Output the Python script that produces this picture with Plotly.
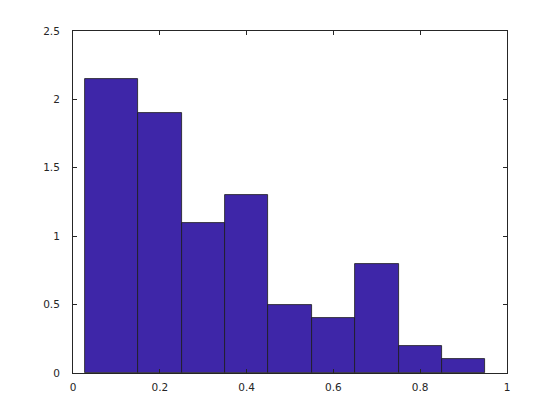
import plotly.graph_objects as go

bin_edges = [0.028, 0.15, 0.25, 0.35, 0.45, 0.55, 0.65, 0.75, 0.85, 0.95]
heights = [2.15, 1.9, 1.1, 1.3, 0.5, 0.4, 0.8, 0.2, 0.1]
x_ticks = [0, 0.2, 0.4, 0.6, 0.8, 1]
x_tick_labels = ["0", "0.2", "0.4", "0.6", "0.8", "1"]
y_ticks = [0, 0.5, 1, 1.5, 2, 2.5]
y_tick_labels = ["0", "0.5", "1", "1.5", "2", "2.5"]

centers = [(a + b) / 2 for a, b in zip(bin_edges[:-1], bin_edges[1:])]
widths = [b - a for a, b in zip(bin_edges[:-1], bin_edges[1:])]

fig = go.Figure(go.Bar(
    x=centers, y=heights, width=widths,
    marker=dict(color="#3E26A8", line=dict(color="#1a1a1a", width=0.8)),
))

axis_common = dict(
    showline=True, linecolor="#262626", linewidth=1, mirror="allticks",
    ticks="inside", ticklen=4, tickcolor="#262626", showgrid=False, zeroline=False,
    tickfont=dict(family="DejaVu Sans", size=10.5, color="#262626"),
)
fig.update_xaxes(range=[0, 1], tickvals=x_ticks, ticktext=x_tick_labels,
                 ticklabelstandoff=4, **axis_common)
fig.update_yaxes(range=[0, 2.5], tickvals=y_ticks, ticktext=y_tick_labels,
                 ticklabelstandoff=10, **axis_common)

fig.update_layout(
    width=560, height=420,
    margin=dict(l=65, r=61, t=23, b=55, autoexpand=False),
    paper_bgcolor="white", plot_bgcolor="white",
    showlegend=False, bargap=0,
)
fig.write_html("out.html")
